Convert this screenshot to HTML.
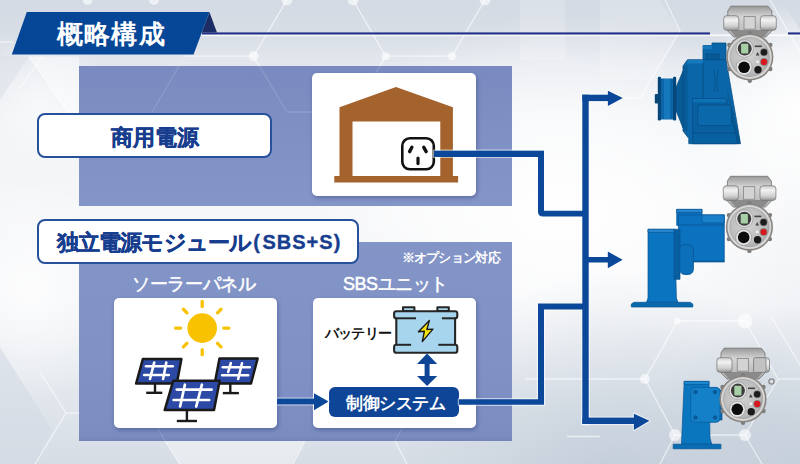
<!DOCTYPE html>
<html lang="ja">
<head>
<meta charset="utf-8">
<style>
html,body{margin:0;padding:0;}
body{width:800px;height:464px;overflow:hidden;position:relative;font-family:"Liberation Sans",sans-serif;
background:#eef1f5;}
.abs{position:absolute;}
.panel{position:absolute;}
.label{position:absolute;background:#fff;border:2.2px solid #27519a;border-radius:8px;box-sizing:border-box;color:#173d8e;font-weight:bold;white-space:nowrap;}
.wbox{position:absolute;background:#fff;border-radius:5px;box-shadow:1px 2px 4px rgba(30,40,100,.35);}
.wt{position:absolute;color:#fff;white-space:nowrap;}
svg{position:absolute;left:0;top:0;overflow:visible;}
</style>
</head>
<body>
<!-- background network -->
<svg width="800" height="464" viewBox="0 0 800 464">
  <defs>
    <linearGradient id="bgv" x1="0" y1="0" x2="0" y2="464" gradientUnits="userSpaceOnUse">
      <stop offset="0" stop-color="#d3dae3"/>
      <stop offset="0.07" stop-color="#d8dee6"/>
      <stop offset="0.14" stop-color="#e4e8ee"/>
      <stop offset="0.25" stop-color="#eff2f5"/>
      <stop offset="0.45" stop-color="#f6f7f9"/>
      <stop offset="0.65" stop-color="#f1f3f6"/>
      <stop offset="0.82" stop-color="#e4e9ee"/>
      <stop offset="1" stop-color="#d6dde5"/>
    </linearGradient>
    <radialGradient id="glow1" cx="560" cy="215" r="200" gradientUnits="userSpaceOnUse" gradientTransform="translate(560 215) scale(1.3 1) translate(-560 -215)">
      <stop offset="0" stop-color="#fff" stop-opacity=".95"/>
      <stop offset=".5" stop-color="#fff" stop-opacity=".6"/>
      <stop offset="1" stop-color="#fff" stop-opacity="0"/>
    </radialGradient>
    <radialGradient id="dark1" cx="620" cy="500" r="230" gradientUnits="userSpaceOnUse">
      <stop offset="0" stop-color="#b9c5d3" stop-opacity=".75"/>
      <stop offset=".6" stop-color="#c3cdd9" stop-opacity=".35"/>
      <stop offset="1" stop-color="#c3cdd9" stop-opacity="0"/>
    </radialGradient>
    <radialGradient id="glow3" cx="800" cy="110" r="110" gradientUnits="userSpaceOnUse">
      <stop offset="0" stop-color="#fff" stop-opacity=".95"/>
      <stop offset=".55" stop-color="#fff" stop-opacity=".6"/>
      <stop offset="1" stop-color="#fff" stop-opacity="0"/>
    </radialGradient>
    <radialGradient id="glow4" cx="40" cy="105" r="70" gradientUnits="userSpaceOnUse">
      <stop offset="0" stop-color="#fff" stop-opacity=".6"/>
      <stop offset="1" stop-color="#fff" stop-opacity="0"/>
    </radialGradient>
    <radialGradient id="dark2" cx="800" cy="464" r="160" gradientUnits="userSpaceOnUse">
      <stop offset="0" stop-color="#bfcad6" stop-opacity=".7"/>
      <stop offset="1" stop-color="#bfcad6" stop-opacity="0"/>
    </radialGradient>
    <radialGradient id="glow2" cx="30" cy="290" r="110" gradientUnits="userSpaceOnUse">
      <stop offset="0" stop-color="#fff" stop-opacity=".8"/>
      <stop offset="1" stop-color="#fff" stop-opacity="0"/>
    </radialGradient>
  </defs>
  <rect width="800" height="464" fill="url(#bgv)"/>
  <rect width="800" height="464" fill="url(#glow1)"/>
  <rect width="800" height="464" fill="url(#dark1)"/>
  <rect width="800" height="464" fill="url(#glow2)"/>
  <rect width="800" height="464" fill="url(#glow3)"/>
  <rect width="800" height="464" fill="url(#glow4)"/>
  <rect width="800" height="464" fill="url(#dark2)"/>
  <polygon points="782,0 800,0 800,30" fill="#d3dbe5" fill-opacity=".8"/>
  <polygon points="0,347 52,430 35,464 0,464" fill="#d3dbe4" fill-opacity=".6"/>
  <polygon points="29,56.5 79,56.5 79,128" fill="#ffffff" fill-opacity=".45"/>
  <polygon points="0,56 29,56.5 0,100" fill="#d9dfe7" fill-opacity=".5"/>
  <polygon points="165,440 305,440 292,464 180,464" fill="#ffffff" fill-opacity=".4"/>
  <polygon points="520,0 565,0 565,60 520,60" fill="#ffffff" fill-opacity=".18"/>
  <polygon points="600,0 660,0 680,31 650,80 600,80" fill="#ffffff" fill-opacity=".18"/>
  <g stroke="#ffffff" stroke-opacity=".6" stroke-width="1.3" fill="none">
    <path d="M287,0 L253.6,56.2 L185,56.2"/>
    <path d="M253.6,56.2 L259,66"/>
    <path d="M353,0 L385.6,56.2 L452,56.2 L485,0"/>
    <path d="M385.6,56.2 L380,66"/>
    <path d="M0,42 L13,42"/>
    <path d="M29,56.5 L79,128"/>
    <path d="M42,56.5 L20,88"/>
    <path d="M665,0 L680,31 L640,98 L620,98"/>
    <path d="M770,0 L800,52"/>
    <path d="M66,413 L35,464"/>
    <path d="M66,413 L79,413"/>
    <path d="M66,413 L40,372"/>
    <path d="M305,441 L293,464"/>
    <path d="M395,441 L407,464"/>
    <path d="M165,441 L180,464"/>
    <path d="M525,379 L645,379 L677.5,321 L745,321 L778,379 L745,435 L675,435 L645,379"/>
    <path d="M675,435 L660,464"/>
    <path d="M745,435 L762,464"/>
    <path d="M567,436.5 L600,436.5"/>
    <path d="M772,318 L800,365"/>
    <path d="M778,379 L800,379"/>
  </g>
  <g fill="#ffffff" fill-opacity=".6">
    <circle cx="287" cy="0" r="5.5"/>
    <circle cx="353" cy="0" r="5.5"/>
    <circle cx="485" cy="0" r="5.5"/>
    <circle cx="87.6" cy="0" r="5"/>
    <circle cx="154" cy="0" r="5"/>
    <circle cx="253.6" cy="56.2" r="5"/>
    <circle cx="385.6" cy="56.2" r="4"/>
    <circle cx="452" cy="56.2" r="4"/>
    <circle cx="645" cy="379" r="5"/>
    <circle cx="745" cy="321" r="7.5"/>
    <circle cx="677.5" cy="321" r="3.5"/>
    <circle cx="675" cy="435" r="6"/>
    <circle cx="745" cy="435" r="6"/>
  </g>
</svg>

<!-- title banner -->
<svg width="800" height="464" viewBox="0 0 800 464">
  <rect x="202" y="34.4" width="598" height="1.8" fill="#ffffff" fill-opacity=".8"/>
  <rect x="202" y="32.4" width="508" height="2.1" fill="#23318a"/>
  <rect x="788" y="32.4" width="12" height="2.1" fill="#23318a"/>
  <polygon points="209.4,12 217,32.4 201.8,32.4" fill="#1b2d64"/>
  <polygon points="26.8,12 209.4,12 193.6,54.6 11.8,54.6" fill="#054696"/>
</svg>
<div class="wt" style="left:56.5px;top:16.7px;font-size:26px;line-height:34px;font-weight:bold;letter-spacing:1.4px;">概略構成</div>

<!-- panels -->
<div class="panel" style="left:79px;top:66px;width:433px;height:140.3px;background:linear-gradient(180deg,#788abf,#8091c5 60%,#8495c8);"></div>
<div class="panel" style="left:79px;top:241.5px;width:433px;height:199px;background:linear-gradient(180deg,#8394c7,#8091c5 60%,#7a8cc0 97%,#7284b9);"></div>

<svg width="800" height="464" viewBox="0 0 800 464">
  <g stroke="#ffffff" stroke-opacity=".14" stroke-width="1.3" fill="none">
    <path d="M185,56 L152,112"/>
    <path d="M253.6,56.2 L287,112"/>
    <path d="M385.6,56.2 L353,112 L287,112"/>
    <path d="M165,441 L150,415"/>
    <path d="M395,441 L410,415"/>
  </g>
</svg>
<!-- labels -->
<div class="label" style="left:37px;top:113.4px;width:235px;height:45px;font-size:22.4px;line-height:46.5px;text-align:center;-webkit-text-stroke:.35px #173d8e;">商用電源</div>
<div class="label" style="left:37px;top:219.3px;width:322.2px;height:44.4px;font-size:22px;line-height:44px;padding-left:17.5px;-webkit-text-stroke:.35px #173d8e;"><span style="letter-spacing:-0.8px;">独立電源モジュール</span><span style="font-size:20px;margin-left:2px;position:relative;top:-1.5px;">(<span style="margin-left:2.5px;letter-spacing:1px;">SBS+S)</span></span></div>

<div class="wt" style="left:401.5px;top:249.5px;font-size:12.5px;line-height:16px;font-weight:bold;letter-spacing:-0.7px;">※オプション対応</div>
<div class="wt" style="left:132px;top:273px;font-size:18px;line-height:22px;letter-spacing:-0.35px;-webkit-text-stroke:.5px #fff;">ソーラーパネル</div>
<div class="wt" style="left:343px;top:273.3px;font-size:18px;line-height:22px;letter-spacing:-0.5px;-webkit-text-stroke:.5px #fff;">SBSユニット</div>

<!-- white boxes -->
<div class="wbox" style="left:312.4px;top:73.4px;width:163.6px;height:123px;"></div>
<div class="wbox" style="left:113.6px;top:297.5px;width:163.6px;height:130px;"></div>
<div class="wbox" style="left:313px;top:297.5px;width:163.4px;height:130px;"></div>

<!-- house -->
<svg width="800" height="464" viewBox="0 0 800 464">
  <path d="M396 87.1 L452.9 107.3 L452.9 176.1 L458.1 176.1 L458.1 182.5 L334.3 182.5 L334.3 176.1 L339.5 176.1 L339.5 107.3 Z M352.5 121.5 L352.5 176.1 L440.3 176.1 L440.3 121.5 Z" fill="#a4622d" fill-rule="evenodd"/>
  <rect x="434" y="150.7" width="110" height="6.2" fill="#0b4899"/>
  <rect x="402.3" y="138.3" width="31.5" height="31" rx="7.5" fill="#fff" stroke="#111" stroke-width="2.6"/>
  <path d="M411.9 147.3 L409.6 151.6" stroke="#111" stroke-width="3.4" stroke-linecap="round"/>
  <path d="M423.8 147.3 L426.2 151.6" stroke="#111" stroke-width="3.4" stroke-linecap="round"/>
  <path d="M418 158 L418 163.6" stroke="#111" stroke-width="3.2" stroke-linecap="round"/>
</svg>

<!-- solar icon -->
<svg width="800" height="464" viewBox="0 0 800 464">
  <g stroke="#f8c200" stroke-width="3.3" stroke-linecap="round">
    <line x1="223.80" y1="328.10" x2="228.80" y2="328.10"/>
    <line x1="217.47" y1="343.37" x2="221.01" y2="346.91"/>
    <line x1="202.20" y1="349.70" x2="202.20" y2="354.70"/>
    <line x1="186.93" y1="343.37" x2="183.39" y2="346.91"/>
    <line x1="180.60" y1="328.10" x2="175.60" y2="328.10"/>
    <line x1="186.93" y1="312.83" x2="183.39" y2="309.29"/>
    <line x1="202.20" y1="306.50" x2="202.20" y2="301.50"/>
    <line x1="217.47" y1="312.83" x2="221.01" y2="309.29"/>
  </g>
  <circle cx="202.2" cy="328.1" r="14.8" fill="#f8c200"/>
  <!-- panels -->
  <g stroke="#1a1a1a" stroke-width="2.4" stroke-linecap="butt">
    <line x1="155" y1="383" x2="155" y2="392.8"/>
    <line x1="146.2" y1="392.8" x2="162.3" y2="392.8"/>
    <line x1="230.3" y1="383" x2="230.3" y2="393.1"/>
    <line x1="222.8" y1="393.1" x2="238.9" y2="393.1"/>
    <line x1="186.9" y1="410" x2="186.9" y2="421"/>
    <line x1="176.8" y1="421" x2="197" y2="421"/>
  </g>
  <polygon points="142.9,358.9 181.4,358.9 176.8,383.6 136.1,383.6" fill="#2b49a5" stroke="#1a1a1a" stroke-width="2.5" stroke-linejoin="round"/>
  <polygon points="219.5,358.6 257.6,358.6 251,383.4 214.7,383.4" fill="#2b49a5" stroke="#1a1a1a" stroke-width="2.5" stroke-linejoin="round"/>
  <g stroke="#fff" stroke-width="2.6" stroke-linecap="round">
    <line x1="146" y1="366.2" x2="172.8" y2="366.2"/>
    <line x1="144.2" y1="375" x2="168.8" y2="375"/>
    <line x1="154.2" y1="362.6" x2="150" y2="379"/>
    <line x1="166.3" y1="362.6" x2="163.1" y2="379"/>
    <line x1="222.8" y1="367.2" x2="249.7" y2="367.2"/>
    <line x1="222.2" y1="375.3" x2="248.1" y2="375.3"/>
    <line x1="230.8" y1="363.2" x2="228.2" y2="372"/>
    <line x1="242" y1="363.2" x2="238.2" y2="379"/>
  </g>
  <polygon points="173.3,380.7 219.7,380.7 214,410.1 164.7,410.1" fill="#2b49a5" stroke="#1a1a1a" stroke-width="2.5" stroke-linejoin="round"/>
  <g stroke="#fff" stroke-width="2.7" stroke-linecap="round">
    <line x1="176.8" y1="389.6" x2="211.6" y2="389.6"/>
    <line x1="173.6" y1="400" x2="209.2" y2="400"/>
    <line x1="184.9" y1="384.7" x2="180.1" y2="406.5"/>
    <line x1="201.9" y1="384.7" x2="196.2" y2="406.5"/>
  </g>
</svg>

<!-- battery -->
<svg width="800" height="464" viewBox="0 0 800 464">
  <g stroke="#262626" stroke-width="2.1" fill="#a8d5ee" stroke-linejoin="round">
    <path d="M403,311 V307.2 H414.4 V311 Z"/>
    <path d="M437.4,311 V307.2 H448.8 V311 Z"/>
    <path d="M396.4,311.2 H455 Q457.3,311.2 457.3,313.5 V316 Q457.3,318.3 455.1,318.3 V344.8 Q457.3,344.8 457.3,347.1 V350.4 Q457.3,352.7 455,352.7 H396.4 Q394.1,352.7 394.1,350.4 V347.1 Q394.1,344.8 396.3,344.8 V318.3 Q394.1,318.3 394.1,316 V313.5 Q394.1,311.2 396.4,311.2 Z"/>
  </g>
  <g stroke="#262626" stroke-width="2">
    <line x1="396.3" y1="318.3" x2="416" y2="318.3"/>
    <line x1="441.9" y1="318.3" x2="455.1" y2="318.3"/>
    <line x1="396.3" y1="344.8" x2="411.1" y2="344.8"/>
    <line x1="438.3" y1="344.8" x2="455.1" y2="344.8"/>
  </g>
  <path d="M429.4,320.4 L418.4,331.7 L424.4,331.2 L422.3,341.6 L432.9,329.1 L426.9,329.5 Z" fill="#f6e40b" stroke="#1a1a1a" stroke-width="1.4" stroke-linejoin="round"/>
  <!-- double arrow -->
  <path d="M427.1 353.6 L437.2 364 L429.6 364 L429.6 376 L437.2 376 L427.1 386 L417 376 L424.6 376 L424.6 364 L417 364 Z" fill="#0f4596"/>
</svg>
<div class="abs" style="left:325px;top:322.8px;font-size:14px;line-height:20px;color:#111;white-space:nowrap;font-weight:bold;letter-spacing:-0.8px;">バッテリー</div>

<!-- control box -->
<div class="abs" style="left:329px;top:386.6px;width:130.4px;height:30.6px;background:#0f4596;border-radius:6px;"></div>
<div class="wt" style="left:346px;top:391.8px;font-size:16.5px;line-height:22px;font-weight:bold;letter-spacing:-0.5px;">制御システム</div>

<!-- connection lines / arrows -->
<svg width="800" height="464" viewBox="0 0 800 464">
  <g fill="none" stroke="#ffffff" stroke-opacity=".55" stroke-width="2.4" stroke-linejoin="round">
    <!-- solar -> control -->
    <rect x="277" y="398.6" width="38" height="5.8"/>
    <polygon points="314,393.3 328.6,401.5 314,410.3"/>
    <!-- outlet line path -->
    <path d="M434 150.7 L544 150.7 L544 210.8 L585 210.8 L585 216.5 L543 216.5 Q538 216.5 538 211.5 L538 156.9 L434 156.9 Z"/>
    <!-- control -> trunk -->
    <path d="M459 399.2 L538 399.2 L538 303.6 L585 303.6 L585 309.5 L544 309.5 L544 404.8 L459 404.8 Z"/>
    <!-- trunk -->
    <rect x="582.3" y="94.7" width="6.4" height="329.3"/>
    <rect x="582.3" y="94.7" width="27" height="6.4"/>
    <polygon points="607.9,90.8 622.8,97.9 607.9,105.9"/>
    <rect x="588" y="257" width="21" height="5.5"/>
    <polygon points="607.8,251.6 622.7,259.8 607.8,268.2"/>
    <rect x="582.3" y="417.6" width="53" height="6.4"/>
    <polygon points="633.9,413.7 649.4,420.8 633.9,430"/>
  </g>
  <g fill="#0b4899">
    <!-- solar -> control -->
    <rect x="277" y="398.6" width="38" height="5.8"/>
    <polygon points="314,393.3 328.6,401.5 314,410.3"/>
    <!-- outlet line path -->
    <path d="M434 150.7 L544 150.7 L544 210.8 L585 210.8 L585 216.5 L543 216.5 Q538 216.5 538 211.5 L538 156.9 L434 156.9 Z"/>
    <!-- control -> trunk -->
    <path d="M459 399.2 L538 399.2 L538 303.6 L585 303.6 L585 309.5 L544 309.5 L544 404.8 L459 404.8 Z"/>
    <!-- trunk -->
    <rect x="582.3" y="94.7" width="6.4" height="329.3"/>
    <rect x="582.3" y="94.7" width="27" height="6.4"/>
    <polygon points="607.9,90.8 622.8,97.9 607.9,105.9"/>
    <rect x="588" y="257" width="21" height="5.5"/>
    <polygon points="607.8,251.6 622.7,259.8 607.8,268.2"/>
    <rect x="582.3" y="417.6" width="53" height="6.4"/>
    <polygon points="633.9,413.7 649.4,420.8 633.9,430"/>
  </g>
</svg>

<!-- actuators -->
<svg width="800" height="464" viewBox="0 0 800 464">
  <defs>
    <linearGradient id="cyl" x1="0" y1="0" x2="0" y2="1">
      <stop offset="0" stop-color="#cdcdcd"/>
      <stop offset=".3" stop-color="#f2f2f2"/>
      <stop offset=".7" stop-color="#d2d2d2"/>
      <stop offset="1" stop-color="#969696"/>
    </linearGradient>
    <linearGradient id="lid" x1="0" y1="0" x2="0" y2="1">
      <stop offset="0" stop-color="#9a9a9a"/>
      <stop offset=".35" stop-color="#d6d6d6"/>
      <stop offset="1" stop-color="#b0b0b0"/>
    </linearGradient>
    <radialGradient id="plate" cx=".45" cy=".45" r=".6">
      <stop offset="0" stop-color="#d2d2d2"/>
      <stop offset=".75" stop-color="#bdbdbd"/>
      <stop offset="1" stop-color="#a5a5a5"/>
    </radialGradient>
    <g id="head">
      <path d="M-22,-46 L-19,-50.8 L18.3,-50.8 L22,-46 L22,-26 L16,-20 L-16,-20 L-22,-26 Z" fill="url(#lid)" stroke="#6e6e6e" stroke-width=".8"/>
      <path d="M-20,-27 L20,-27 L14,-20 L-14,-20 Z" fill="#8b8b8b"/>
      <rect x="-26.1" y="-41.3" width="15.1" height="14.6" rx="3" fill="url(#cyl)" stroke="#707070" stroke-width=".7"/>
      <rect x="10.6" y="-41.3" width="15.9" height="14.6" rx="3" fill="url(#cyl)" stroke="#707070" stroke-width=".7"/>
      <rect x="-5.8" y="-40.4" width="11.2" height="12.5" fill="#d3d3d3" stroke="#7a7a7a" stroke-width=".7"/>
      <circle cx="0" cy="-23.8" r="2.2" fill="#7c7c7c"/>
      <circle cx="-20.5" cy="-12" r="2.2" fill="#7c7c7c"/>
      <circle cx="20.5" cy="-12" r="2.2" fill="#7c7c7c"/>
      <circle cx="-20.5" cy="12" r="2.2" fill="#7c7c7c"/>
      <circle cx="20.5" cy="12" r="2.2" fill="#7c7c7c"/>
      <circle cx="0" cy="23.8" r="2.2" fill="#7c7c7c"/>
      <circle r="23.6" fill="#8a8580"/>
      <circle r="22" fill="#d6d6d6"/>
      <circle r="19.6" fill="url(#plate)" stroke="#9a9a9a" stroke-width=".6"/>
      <circle cx="-5.1" cy="-8.4" r="8.8" fill="#e2e2e2" stroke="#8f8f8f" stroke-width=".6"/>
      <circle cx="-5.1" cy="-8.4" r="7" fill="#3b3b3b"/>
      <rect x="-8.7" y="-13.2" width="7.2" height="9.6" rx=".8" fill="#a6cfa6"/>
      <circle cx="-5.7" cy="10.3" r="8" fill="#e4e4e4" stroke="#8f8f8f" stroke-width=".6"/>
      <circle cx="-5.7" cy="10.3" r="5.8" fill="#0c0c0c"/>
      <circle cx="14.2" cy="-4.8" r="4" fill="#8a8a8a"/>
      <circle cx="14.2" cy="-4.8" r="3.2" fill="#1c1c1c"/>
      <circle cx="14.2" cy="4.9" r="4" fill="#8a8a8a"/>
      <circle cx="14.2" cy="4.9" r="3.1" fill="#d8171d"/>
      <circle cx="8.2" cy="12.7" r="3.7" fill="#1a1a1a"/>
      <rect x="5" y="-11.5" width="7" height="1.6" fill="#444"/>
      <path d="M6,-1.5 L7.8,-5 L9.6,-1.5 Z" fill="#444"/>
      <circle cx="7.8" cy="4.8" r="1.4" fill="#f4f4f4"/>
    </g>
  </defs>
  <!-- actuator 1 body -->
  <g stroke="#064c84" stroke-width=".8" stroke-linejoin="round">
    <path d="M703,45.5 L712,45.5 L712,43 L726,43 L726,92 L703,92 Z" fill="#0a66a8"/>
    <rect x="703" y="45.5" width="9" height="3.5" fill="#1679be" stroke="none"/>
    <rect x="706" y="54" width="13" height="7" fill="#075a96"/>
    <path d="M687.5,59.7 L726,59.7 L739.6,138.5 L740.4,143.7 L688.8,143.7 L688.8,138.5 L683,131 L683,66 Z" fill="#0a66a8"/>
    <rect x="687.5" y="60" width="15.5" height="3.5" fill="#1679be" stroke="none"/>
    <path d="M726,84 L739.6,138.5 L740.4,143.7 L737,143.7 L729,100 Z" fill="#075690" stroke="none"/>
    <path d="M692.6,98.5 L726,98.5 L737,138.5 L737,143.7 L692.6,143.7 Z" fill="#0960a0"/>
    <rect x="692.8" y="98.8" width="33" height="3.5" fill="#0f71b4" stroke="none"/>
    <rect x="697.8" y="105" width="33.6" height="20.6" rx="2" fill="#0b69ab"/>
    <line x1="693" y1="133" x2="736" y2="133"/>
    <line x1="703" y1="63" x2="703" y2="98.5"/>
    <path d="M714,70 Q716,84 714,92 M718,70 Q716,84 718,92" fill="none" stroke="#075690" stroke-width="1"/>
    <rect x="683" y="66" width="4.5" height="65" fill="#075a96" stroke="none"/>
    <path d="M675.8,88 L683,71 L683,128 L675.8,110 Z" fill="#085a96"/>
    <rect x="660" y="78.5" width="15" height="41" fill="#0a66a8" stroke="none"/>
    <rect x="664" y="79" width="6" height="40" fill="#1679be" stroke="none"/>
    <rect x="657.8" y="76.8" width="3.2" height="43.6" rx="1.2" fill="#06477a" stroke="none"/>
    <rect x="673" y="76.8" width="3.2" height="43.6" rx="1.2" fill="#06477a" stroke="none"/>
    <rect x="654.8" y="93.9" width="3.5" height="9.7" rx="1" fill="#06477a" stroke="none"/>
  </g>
  <use href="#head" x="749.8" y="57"/>
  <!-- actuator 2 body -->
  <g stroke="#075593" stroke-width=".7" stroke-linejoin="round">
    <rect x="676.7" y="209.4" width="25.3" height="16" fill="#0b72bf"/>
    <rect x="676.7" y="209.4" width="25.3" height="3" fill="#2a8ad2"/>
    <rect x="678.4" y="214.9" width="45.9" height="47.1" fill="#0b72bf"/>
    <rect x="702" y="214.9" width="22.3" height="8" fill="#1a80cb"/>
    <line x1="678.4" y1="225" x2="724.3" y2="225" stroke="#085a98" stroke-width="1"/>
    <line x1="678.4" y1="261.3" x2="724.3" y2="261.3" stroke="#085a98" stroke-width="1.4"/>
    <path d="M648,229.3 L674.7,229.3 L676.4,298 L678,302.3 L646.5,302.3 L648,298 Z" fill="#0b74c0"/>
    <rect x="648" y="229.3" width="26.7" height="3" fill="#2a8ad2"/>
    <rect x="674" y="229.3" width="6" height="50" fill="#085f9f"/>
    <rect x="679.7" y="244.7" width="13.6" height="29.7" rx="5" fill="#0b6fb9" stroke="#085a98" stroke-width="1"/>
    <path d="M631.3,307 L692.8,307 L692.8,304 L690,302.3 L634,302.3 L631.3,304 Z" fill="#0a68ad"/>
  </g>
  <use href="#head" x="749.4" y="227.1"/>
  <!-- actuator 3 body -->
  <g stroke="#075593" stroke-width=".7" stroke-linejoin="round">
    <path d="M684.2,381.4 L709,381.4 L710,438 L711.7,444.2 L681.5,444.2 Z" fill="#0a76bd"/>
    <rect x="684.2" y="381.4" width="24.8" height="3" fill="#1e8ad0"/>
    <rect x="708" y="390" width="14" height="30" fill="#0a68ad"/>
    <rect x="690.7" y="387.4" width="29.3" height="34.8" rx="4" fill="#1480c8" stroke="#0a64a6" stroke-width="1"/>
    <circle cx="695.5" cy="392" r="1.8" fill="#075a96"/>
    <circle cx="715" cy="392" r="1.8" fill="#075a96"/>
    <circle cx="695.5" cy="417.5" r="1.8" fill="#075a96"/>
    <circle cx="715" cy="417.5" r="1.8" fill="#075a96"/>
    <rect x="673.2" y="444.2" width="47.7" height="4.6" fill="#0a6cb2"/>
  </g>
  <use href="#head" x="743" y="399"/>
  <rect x="753.6" y="357.7" width="12.4" height="14.6" rx="1" fill="#c2c2c2" stroke="#7a7a7a" stroke-width=".7"/>
  <circle cx="771.5" cy="381.5" r="2.6" fill="none" stroke="#8a8a8a" stroke-width="1.3"/>
</svg>

</body>
</html>
